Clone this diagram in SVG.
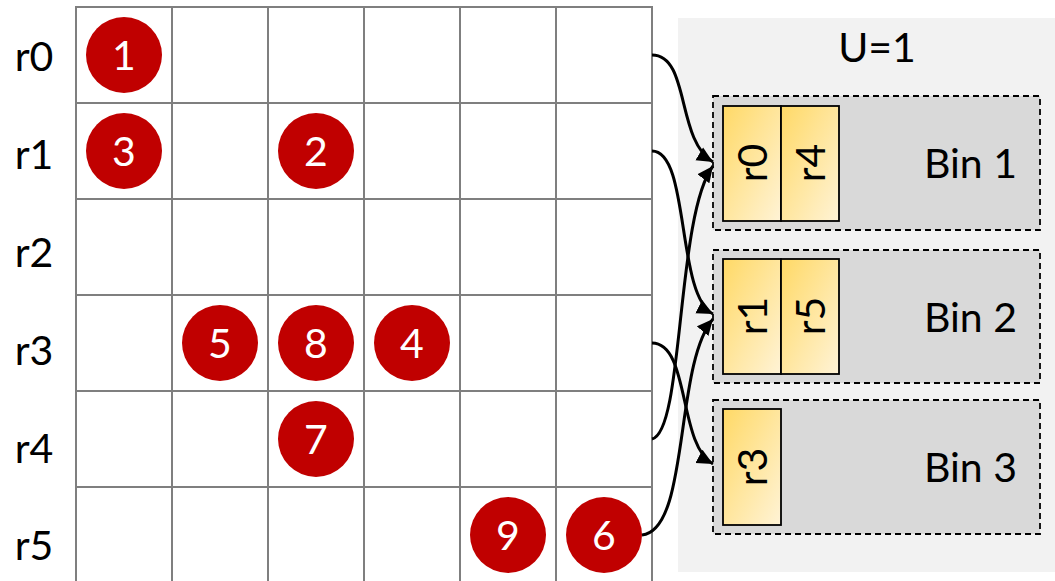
<svg xmlns="http://www.w3.org/2000/svg" width="1055" height="581" viewBox="0 0 1055 581">
  <defs>
    <linearGradient id="gold" x1="0" y1="0" x2="1" y2="1">
      <stop offset="0" stop-color="#FFD966"/>
      <stop offset="1" stop-color="#FFF3D6"/>
    </linearGradient>
    <marker id="arrow" markerUnits="userSpaceOnUse" markerWidth="18" markerHeight="16" refX="16" refY="8" orient="auto">
      <path d="M0,0.5 L16,8 L0,15.5 Z" fill="#000"/>
    </marker>
    <style>
      text { font-family: Lato, "Open Sans", sans-serif; font-size: 41px; fill: #000; }
      .grid line { stroke: #7F7F7F; stroke-width: 2; }
      .dot circle { fill: #C00000; }
      .dot text { fill: #FFFFFF; text-anchor: middle; }
      .row { text-anchor: middle; }
      .bin rect.frame { fill: #D9D9D9; stroke: #000; stroke-width: 1.8; stroke-dasharray: 6 4; }
      .bin rect.item { fill: url(#gold); stroke: #000; stroke-width: 1.8; }
      .bin text.label { text-anchor: end; }
      .bin text.item { text-anchor: middle; }
      .conn path { fill: none; stroke: #000; stroke-width: 3; marker-end: url(#arrow); }
    </style>
  </defs>

  <rect x="0" y="0" width="1055" height="581" fill="#FFFFFF"/>

  <!-- panel -->
  <g id="panel">
    <rect x="678" y="18" width="377" height="554" fill="#F2F2F2"/>
    <text x="877" y="62" text-anchor="middle">U=1</text>
  </g>

  <!-- grid -->
  <g id="grid" class="grid">
    <line x1="76" y1="7" x2="76" y2="581"/>
    <line x1="172" y1="7" x2="172" y2="581"/>
    <line x1="268" y1="7" x2="268" y2="581"/>
    <line x1="364" y1="7" x2="364" y2="581"/>
    <line x1="460" y1="7" x2="460" y2="581"/>
    <line x1="556" y1="7" x2="556" y2="581"/>
    <line x1="652" y1="7" x2="652" y2="581"/>
    <line x1="75" y1="7" x2="653" y2="7"/>
    <line x1="75" y1="103" x2="653" y2="103"/>
    <line x1="75" y1="199" x2="653" y2="199"/>
    <line x1="75" y1="295" x2="653" y2="295"/>
    <line x1="75" y1="391" x2="653" y2="391"/>
    <line x1="75" y1="487" x2="653" y2="487"/>
  </g>

  <!-- row labels -->
  <g id="row-labels">
    <text class="row" x="34" y="71">r0</text>
    <text class="row" x="34" y="169">r1</text>
    <text class="row" x="34" y="267">r2</text>
    <text class="row" x="34" y="365">r3</text>
    <text class="row" x="34" y="463">r4</text>
    <text class="row" x="34" y="560">r5</text>
  </g>

  <!-- numbered dots -->
  <g id="dot1" class="dot"><circle cx="124" cy="55" r="38"/><text x="124" y="70">1</text></g>
  <g id="dot3" class="dot"><circle cx="124" cy="151" r="38"/><text x="124" y="166">3</text></g>
  <g id="dot2" class="dot"><circle cx="316" cy="151" r="38"/><text x="316" y="166">2</text></g>
  <g id="dot5" class="dot"><circle cx="220" cy="343" r="38"/><text x="220" y="358">5</text></g>
  <g id="dot8" class="dot"><circle cx="316" cy="343" r="38"/><text x="316" y="358">8</text></g>
  <g id="dot4" class="dot"><circle cx="412" cy="343" r="38"/><text x="412" y="358">4</text></g>
  <g id="dot7" class="dot"><circle cx="316" cy="439" r="38"/><text x="316" y="454">7</text></g>
  <g id="dot9" class="dot"><circle cx="508" cy="535" r="38"/><text x="508" y="550">9</text></g>
  <g id="dot6" class="dot"><circle cx="604" cy="535" r="38"/><text x="604" y="550">6</text></g>

  <!-- bins -->
  <g id="bin1" class="bin">
    <rect class="frame" x="713" y="96" width="327" height="134"/>
    <rect class="item" x="723" y="106" width="58" height="115"/>
    <rect class="item" x="781" y="106" width="58" height="115"/>
    <text class="item" transform="translate(767,163) rotate(-90)">r0</text>
    <text class="item" transform="translate(825,163) rotate(-90)">r4</text>
    <text class="label" x="1017" y="178">Bin 1</text>
  </g>
  <g id="bin2" class="bin">
    <rect class="frame" x="713" y="250" width="327" height="133"/>
    <rect class="item" x="723" y="259" width="58" height="115"/>
    <rect class="item" x="781" y="259" width="58" height="115"/>
    <text class="item" transform="translate(767,316) rotate(-90)">r1</text>
    <text class="item" transform="translate(825,316) rotate(-90)">r5</text>
    <text class="label" x="1017" y="332">Bin 2</text>
  </g>
  <g id="bin3" class="bin">
    <rect class="frame" x="713" y="400" width="327" height="134"/>
    <rect class="item" x="723" y="409" width="58" height="116"/>
    <text class="item" transform="translate(767,467) rotate(-90)">r3</text>
    <text class="label" x="1017" y="482">Bin 3</text>
  </g>

  <!-- connectors -->
  <g id="connectors" class="conn">
    <path d="M652,55 C690,55 676,140 713,162"/>
    <path d="M652,439 C684,432 676,215 713,166"/>
    <path d="M652,151 C690,151 676,295 713,314"/>
    <path d="M642,535 C690,530 674,365 713,319"/>
    <path d="M652,343 C690,343 678,445 713,464"/>
  </g>
</svg>
